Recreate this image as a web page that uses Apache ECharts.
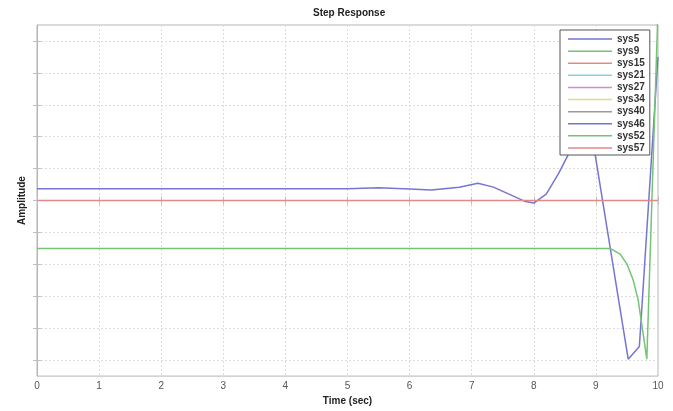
<!DOCTYPE html>
<html>
<head>
<meta charset="utf-8">
<script src="https://cdn.jsdelivr.net/npm/echarts@6/dist/echarts.min.js"></script>
<style>
html,body{margin:0;padding:0;background:#fff;}
#c{width:673px;height:411px;}
</style>
</head>
<body>
<div id="c"></div>
<script>
// ---- data ----
const seriesNames = ['sys5','sys9','sys15','sys21','sys27','sys34','sys40','sys46','sys52','sys57'];
const xTicks = [0,1,2,3,4,5,6,7,8,9,10];
const yTicks = [-5,-4,-3,-2,-1,0,1,2,3,4,5];

const sys5Time  = [0, 5.0, 5.5, 6.0, 6.35, 6.8, 7.1, 7.35, 7.6, 7.85, 8.0, 8.2, 8.4, 8.58, 8.78, 8.98, 9.52, 9.7, 10];
const sys5Amp   = [0.37, 0.37, 0.40, 0.36, 0.33, 0.42, 0.54, 0.42, 0.20, -0.02, -0.08, 0.20, 0.85, 1.53, 3.2, 1.53, -4.97, -4.57, 4.5];

const sys9Time  = [0, 9.23, 9.39, 9.5, 9.6, 9.68, 9.76, 9.82, 10];
const sys9Amp   = [-1.50, -1.50, -1.68, -1.99, -2.49, -3.11, -4.16, -4.97, 6.0];

const sys15Time = [0, 10];
const sys15Amp  = [0, 0];

const emptyTime = [];
const emptyAmp  = [];

const seriesColors = ['#7575d6','#74c474','#e48888','#88d2da','#d68ad6','#dede88','#9a9a9a','#7575d6','#74c474','#e48888'];

function pairs(t, v){ return t.map((x,i)=>[x, v[i]]); }
const seriesData = [
  pairs(sys5Time, sys5Amp),
  pairs(sys9Time, sys9Amp),
  pairs(sys15Time, sys15Amp),
  pairs(emptyTime, emptyAmp),
  pairs(emptyTime, emptyAmp),
  pairs(emptyTime, emptyAmp),
  pairs(emptyTime, emptyAmp),
  pairs(emptyTime, emptyAmp),
  pairs(emptyTime, emptyAmp),
  pairs(emptyTime, emptyAmp)
];

const FONT = '"Liberation Sans", Arial, sans-serif';
const chart = echarts.init(document.getElementById('c'), null, {renderer:'canvas'});

const series = seriesNames.map((n,i)=>({
  name: n,
  type: 'line',
  data: seriesData[i],
  symbol: 'none',
  showSymbol: false,
  animation: false,
  lineStyle: {color: seriesColors[i], width: 1.5},
  itemStyle: {color: seriesColors[i]},
  z: 2
}));

chart.setOption({
  backgroundColor: '#ffffff',
  animation: false,
  title: {
    text: 'Step Response',
    left: 313, top: 8, padding: 0,
    textStyle: {fontFamily: FONT, fontSize: 10, fontWeight: 'bold', color: '#222'}
  },
  grid: {
    left: 37, right: 15, top: 25, bottom: 31,
    show: true, borderColor: '#b5b5b5', borderWidth: 1, backgroundColor: '#fff'
  },
  legend: {
    data: seriesNames.map((n,i)=>({name: n, icon: 'rect', itemStyle: {color: seriesColors[i]}})),
    orient: 'vertical',
    left: 560, top: 30,
    z: 50, zlevel: 0,
    padding: [3, 5, 1, 8],
    itemWidth: 44, itemHeight: 1.5, itemGap: 0,
    backgroundColor: '#ffffff',
    borderColor: '#555',
    borderWidth: 1,
    textStyle: {fontFamily: FONT, fontSize: 10, fontWeight: 'bold', color: '#333', lineHeight: 12.1},
    selectedMode: false
  },
  xAxis: [{
    type: 'value', min: 0, max: 10, interval: 1,
    name: 'Time (sec)', nameLocation: 'middle', nameGap: 17,
    nameTextStyle: {fontFamily: FONT, fontSize: 10, fontWeight: 'bold', color: '#222'},
    axisLine: {show: true, lineStyle: {color: '#b5b5b5'}},
    axisTick: {show: true, inside: true, length: 4, lineStyle: {color: '#c0c0c0'}},
    axisLabel: {show: true, margin: 5, fontFamily: FONT, fontSize: 10, color: '#555',
      customValues: xTicks},
    splitLine: {show: true, lineStyle: {color: '#dcdcdc', type: [2, 2], width: 1}}
  }, {
    type: 'value', min: 0, max: 10, interval: 1, position: 'top',
    axisLine: {show: false},
    axisTick: {show: true, inside: true, length: 4, lineStyle: {color: '#c0c0c0'}},
    axisLabel: {show: false},
    splitLine: {show: false}
  }],
  yAxis: [{
    type: 'value', min: -5.5, max: 5.5,
    name: 'Amplitude', nameLocation: 'middle', nameGap: 10,
    nameTextStyle: {fontFamily: FONT, fontSize: 10, fontWeight: 'bold', color: '#222'},
    axisLine: {show: true, lineStyle: {color: '#b5b5b5'}},
    axisTick: {show: true, inside: true, length: 4, lineStyle: {color: '#c0c0c0'}, customValues: yTicks},
    axisLabel: {show: false, customValues: yTicks},
    splitLine: {show: true, lineStyle: {color: '#dcdcdc', type: [2, 2], width: 1}}
  }, {
    type: 'value', min: -5.5, max: 5.5, position: 'right',
    axisLine: {show: false},
    axisTick: {show: true, inside: true, length: 4, lineStyle: {color: '#c0c0c0'}, customValues: yTicks},
    axisLabel: {show: false, customValues: yTicks},
    splitLine: {show: false}
  }],
  series: series
});
</script>
</body>
</html>
